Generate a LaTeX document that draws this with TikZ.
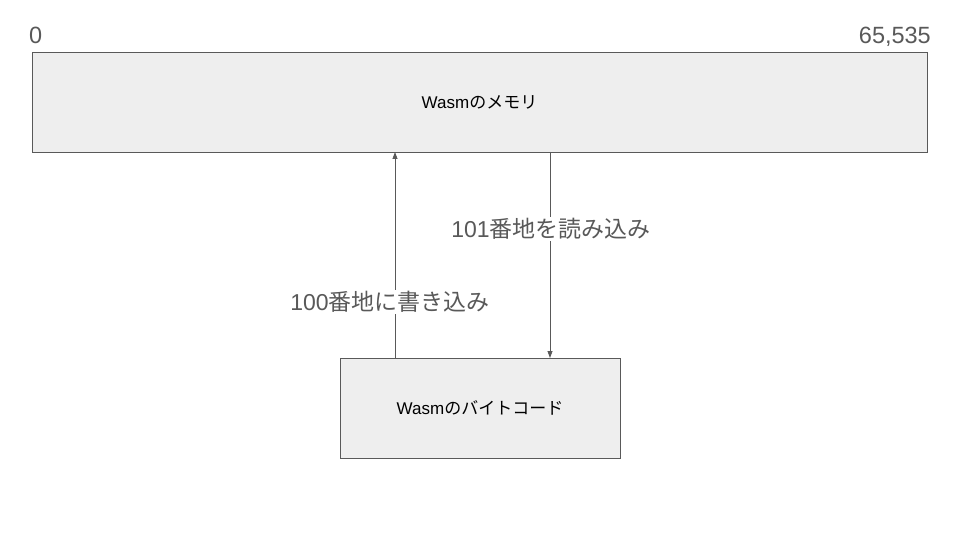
\documentclass[tikz,border=0pt]{standalone}
\usepackage{fontspec}
\setmainfont{Liberation Sans}
\newfontfamily\jp{Noto Sans CJK JP}
\usetikzlibrary{arrows.meta}
\definecolor{edge}{HTML}{595959}
\definecolor{boxfill}{HTML}{EEEEEE}
\definecolor{txt}{HTML}{595959}
\tikzset{
  membox/.style={draw=edge, fill=boxfill, line width=0.8pt, inner sep=0pt},
  boxtext/.style={font=\fontsize{17}{19}\selectfont, text=black},
  lbl/.style={font=\fontsize{23}{26}\selectfont, text=txt, fill=white, inner sep=1pt},
  ends/.style={font=\fontsize{23.5}{26}\selectfont, text=txt, inner sep=0pt},
  conn/.style={draw=edge, line width=0.8pt, -{Triangle[length=7pt,width=5pt]}}
}
\begin{document}
\begin{tikzpicture}[x=1pt,y=-1pt]
\useasboundingbox (0,0) rectangle (960,540);
\path[membox] (32,52) rectangle (927,152);
\node[boxtext] (mem) at (479.5,102) {Wasm{\jp のメモリ}};
\coordinate (memtl) at (32,52);
\path[membox] (340,358) rectangle (620,458);
\node[boxtext] (code) at (480,408) {Wasm{\jp のバイトコード}};
\node[ends, anchor=base west] (zero) at (29,44) {0};
\node[ends, anchor=base east] (max) at (931,44) {65,535};
\coordinate (upS) at (395,358);
\coordinate (upE) at (395,152);
\coordinate (dnS) at (550,152);
\coordinate (dnE) at (550,358);
\draw[conn] (upS) -- (upE);
\draw[conn] (dnS) -- (dnE);
\node[lbl] (wlbl) at (390,302) {100{\jp 番地に書き込み}};
\node[lbl] (rlbl) at (551,229) {101{\jp 番地を読み込み}};
\end{tikzpicture}
\end{document}
